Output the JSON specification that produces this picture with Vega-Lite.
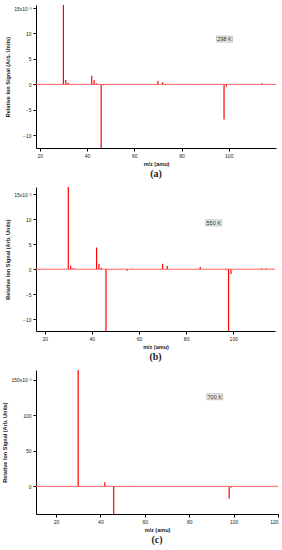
{
  "$schema": "https://vega.github.io/schema/vega-lite/v6.json",
  "background": "white",
  "padding": {"left": 2, "top": 5, "right": 5, "bottom": 2},
  "spacing": 8,
  "config": {
    "view": {"stroke": null},
    "axis": {"grid": false, "labelOverlap": false, "domainColor": "#000", "tickColor": "#000", "tickSize": 3, "labelFontSize": 5, "labelColor": "#222", "labelFont": "Liberation Sans", "titleFont": "Liberation Sans", "titleFontSize": 5.5, "titleFontWeight": "bold", "titleColor": "#222", "labelPadding": 2, "titlePadding": 3, "domainWidth": 1, "tickWidth": 1},
    "title": {"font": "Liberation Serif", "fontSize": 10, "fontWeight": "bold", "color": "#222", "orient": "bottom", "anchor": "middle", "offset": 2}
  },
  "datasets": {
    "a": [
      {"mz": 30, "signal": 20}, {"mz": 31, "signal": 0.85}, {"mz": 32, "signal": 0.3},
      {"mz": 42, "signal": 1.7}, {"mz": 43, "signal": 0.8}, {"mz": 44, "signal": 0.2},
      {"mz": 46, "signal": -14}, {"mz": 47, "signal": -0.2}, {"mz": 48, "signal": -0.1},
      {"mz": 55, "signal": 0.05}, {"mz": 70, "signal": 0.65}, {"mz": 72, "signal": 0.4},
      {"mz": 86, "signal": 0.1}, {"mz": 98, "signal": -6.9}, {"mz": 99, "signal": -0.4},
      {"mz": 114, "signal": 0.2}
    ],
    "b": [
      {"mz": 30, "signal": 20}, {"mz": 31, "signal": 0.7}, {"mz": 32, "signal": 0.2},
      {"mz": 42, "signal": 4.35}, {"mz": 43, "signal": 1.1}, {"mz": 44, "signal": 0.3},
      {"mz": 46, "signal": -14}, {"mz": 47, "signal": -0.1}, {"mz": 55, "signal": -0.3},
      {"mz": 57, "signal": 0.1}, {"mz": 70, "signal": 1.1}, {"mz": 72, "signal": 0.66},
      {"mz": 86, "signal": 0.5}, {"mz": 97, "signal": -0.2}, {"mz": 98, "signal": -14},
      {"mz": 99, "signal": -0.95}, {"mz": 112, "signal": 0.2}, {"mz": 114, "signal": 0.2}
    ],
    "c": [
      {"mz": 30, "signal": 180}, {"mz": 42, "signal": 5.6}, {"mz": 43, "signal": 1},
      {"mz": 46, "signal": -45}, {"mz": 55, "signal": -1}, {"mz": 70, "signal": 0.5},
      {"mz": 72, "signal": 0.5}, {"mz": 98, "signal": -17}, {"mz": 99, "signal": -1.5}
    ],
    "labels": [
      {"panel": "a", "mz": 98.2, "signal": 8.9, "label": "298 K"},
      {"panel": "b", "mz": 91.7, "signal": 9.3, "label": "550 K"},
      {"panel": "c", "mz": 91.5, "signal": 126.4, "label": "700 K"}
    ]
  },
  "vconcat": [
    {
      "width": 240, "height": 143,
      "title": {"text": "(a)"},
      "layer": [
        {"data": {"name": "a"}, "mark": {"type": "rule", "color": "#ff0000", "strokeWidth": 1.2, "clip": true},
         "encoding": {
           "x": {"field": "mz", "type": "quantitative", "scale": {"domain": [18.4, 120], "nice": false, "zero": false}, "axis": {"title": "m/z (amu)", "values": [20, 40, 60, 80, 100]}},
           "y": {"field": "signal", "type": "quantitative", "scale": {"domain": [-12.5, 15.6], "nice": false, "zero": false}, "axis": {"title": "Relative Ion Signal (Arb. Units)", "values": [-10, -5, 0, 5, 10, 15], "labelExpr": "datum.value == 15 ? '15x10⁻³' : datum.label"}},
           "y2": {"datum": 0}
         }},
        {"data": {"values": [{}]}, "mark": {"type": "rule", "color": "#ff6060", "strokeWidth": 1}, "encoding": {"y": {"datum": 0, "type": "quantitative", "axis": {"title": "Relative Ion Signal (Arb. Units)", "values": [-10, -5, 0, 5, 10, 15], "labelExpr": "datum.value == 15 ? '15x10⁻³' : datum.label"}}}},
        {"data": {"name": "labels"}, "transform": [{"filter": "datum.panel == 'a'"}], "mark": {"type": "point", "shape": "M-1,-0.38H1V0.38H-1Z", "size": 256, "filled": true, "fill": "#eeeeee", "stroke": "#999999", "strokeWidth": 0.5, "opacity": 1},
         "encoding": {"x": {"field": "mz", "type": "quantitative", "axis": {"title": "m/z (amu)", "values": [20, 40, 60, 80, 100]}}, "y": {"field": "signal", "type": "quantitative", "axis": {"title": "Relative Ion Signal (Arb. Units)", "values": [-10, -5, 0, 5, 10, 15], "labelExpr": "datum.value == 15 ? '15x10⁻³' : datum.label"}}}},
        {"data": {"name": "labels"}, "transform": [{"filter": "datum.panel == 'a'"}], "mark": {"type": "text", "fontSize": 5.5, "font": "Liberation Sans", "color": "#222"},
         "encoding": {"x": {"field": "mz", "type": "quantitative", "axis": {"title": "m/z (amu)", "values": [20, 40, 60, 80, 100]}}, "y": {"field": "signal", "type": "quantitative", "axis": {"title": "Relative Ion Signal (Arb. Units)", "values": [-10, -5, 0, 5, 10, 15], "labelExpr": "datum.value == 15 ? '15x10⁻³' : datum.label"}}, "text": {"field": "label"}}}
      ]
    },
    {
      "width": 239, "height": 144,
      "title": {"text": "(b)"},
      "layer": [
        {"data": {"name": "b"}, "mark": {"type": "rule", "color": "#ff0000", "strokeWidth": 1.2, "clip": true},
         "encoding": {
           "x": {"field": "mz", "type": "quantitative", "scale": {"domain": [16.3, 117.7], "nice": false, "zero": false}, "axis": {"title": "m/z (amu)", "values": [20, 40, 60, 80, 100]}},
           "y": {"field": "signal", "type": "quantitative", "scale": {"domain": [-12.4, 16.5], "nice": false, "zero": false}, "axis": {"title": "Relative Ion Signal (Arb. Units)", "values": [-10, -5, 0, 5, 10, 15], "labelExpr": "datum.value == 15 ? '15x10⁻³' : datum.label"}},
           "y2": {"datum": 0}
         }},
        {"data": {"values": [{}]}, "mark": {"type": "rule", "color": "#ff6060", "strokeWidth": 1}, "encoding": {"y": {"datum": 0, "type": "quantitative", "axis": {"title": "Relative Ion Signal (Arb. Units)", "values": [-10, -5, 0, 5, 10, 15], "labelExpr": "datum.value == 15 ? '15x10⁻³' : datum.label"}}}},
        {"data": {"name": "labels"}, "transform": [{"filter": "datum.panel == 'b'"}], "mark": {"type": "point", "shape": "M-1,-0.38H1V0.38H-1Z", "size": 256, "filled": true, "fill": "#eeeeee", "stroke": "#999999", "strokeWidth": 0.5, "opacity": 1},
         "encoding": {"x": {"field": "mz", "type": "quantitative", "axis": {"title": "m/z (amu)", "values": [20, 40, 60, 80, 100]}}, "y": {"field": "signal", "type": "quantitative", "axis": {"title": "Relative Ion Signal (Arb. Units)", "values": [-10, -5, 0, 5, 10, 15], "labelExpr": "datum.value == 15 ? '15x10⁻³' : datum.label"}}}},
        {"data": {"name": "labels"}, "transform": [{"filter": "datum.panel == 'b'"}], "mark": {"type": "text", "fontSize": 5.5, "font": "Liberation Sans", "color": "#222"},
         "encoding": {"x": {"field": "mz", "type": "quantitative", "axis": {"title": "m/z (amu)", "values": [20, 40, 60, 80, 100]}}, "y": {"field": "signal", "type": "quantitative", "axis": {"title": "Relative Ion Signal (Arb. Units)", "values": [-10, -5, 0, 5, 10, 15], "labelExpr": "datum.value == 15 ? '15x10⁻³' : datum.label"}}, "text": {"field": "label"}}}
      ]
    },
    {
      "width": 242, "height": 144,
      "title": {"text": "(c)"},
      "layer": [
        {"data": {"name": "c"}, "mark": {"type": "rule", "color": "#ff0000", "strokeWidth": 1.2, "clip": true},
         "encoding": {
           "x": {"field": "mz", "type": "quantitative", "scale": {"domain": [11, 120], "nice": false, "zero": false}, "axis": {"title": "m/z (amu)", "values": [20, 40, 60, 80, 100, 120]}},
           "y": {"field": "signal", "type": "quantitative", "scale": {"domain": [-39, 164], "nice": false, "zero": false}, "axis": {"title": "Relative Ion Signal (Arb. Units)", "values": [0, 50, 100, 150], "labelExpr": "datum.value == 150 ? '150x10⁻³' : datum.label"}},
           "y2": {"datum": 0}
         }},
        {"data": {"values": [{}]}, "mark": {"type": "rule", "color": "#ff6060", "strokeWidth": 1}, "encoding": {"y": {"datum": 0, "type": "quantitative", "axis": {"title": "Relative Ion Signal (Arb. Units)", "values": [0, 50, 100, 150], "labelExpr": "datum.value == 150 ? '150x10⁻³' : datum.label"}}}},
        {"data": {"name": "labels"}, "transform": [{"filter": "datum.panel == 'c'"}], "mark": {"type": "point", "shape": "M-1,-0.38H1V0.38H-1Z", "size": 256, "filled": true, "fill": "#eeeeee", "stroke": "#999999", "strokeWidth": 0.5, "opacity": 1},
         "encoding": {"x": {"field": "mz", "type": "quantitative", "axis": {"title": "m/z (amu)", "values": [20, 40, 60, 80, 100, 120]}}, "y": {"field": "signal", "type": "quantitative", "axis": {"title": "Relative Ion Signal (Arb. Units)", "values": [0, 50, 100, 150], "labelExpr": "datum.value == 150 ? '150x10⁻³' : datum.label"}}}},
        {"data": {"name": "labels"}, "transform": [{"filter": "datum.panel == 'c'"}], "mark": {"type": "text", "fontSize": 5.5, "font": "Liberation Sans", "color": "#222"},
         "encoding": {"x": {"field": "mz", "type": "quantitative", "axis": {"title": "m/z (amu)", "values": [20, 40, 60, 80, 100, 120]}}, "y": {"field": "signal", "type": "quantitative", "axis": {"title": "Relative Ion Signal (Arb. Units)", "values": [0, 50, 100, 150], "labelExpr": "datum.value == 150 ? '150x10⁻³' : datum.label"}}, "text": {"field": "label"}}}
      ]
    }
  ]
}
